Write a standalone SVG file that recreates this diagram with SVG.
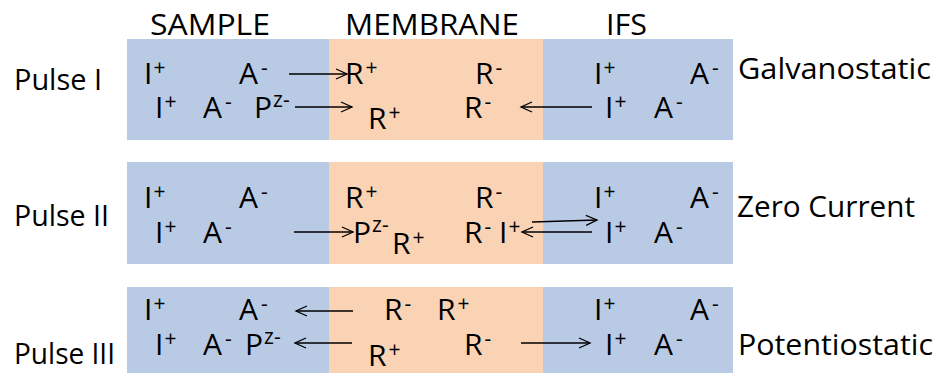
<svg xmlns="http://www.w3.org/2000/svg" width="938" height="375" viewBox="0 0 938 375">
<defs>
<style>
.b{fill:#B9CAE4}
.o{fill:#FAD3B5}
text{font-family:"Open Sans","Noto Sans",sans-serif;fill:#000}
.i{font-size:30px}
.s{font-size:21px}
.h{font-size:30px}
.l{font-size:29px}
.c path{fill:none;stroke:#000;stroke-width:1.3;marker-end:url(#ah)}
</style>
<marker id="ah" markerUnits="userSpaceOnUse" markerWidth="14" markerHeight="12" refX="12" refY="6" orient="auto">
<path d="M1,1 L12,6 L1,11" fill="none" stroke="#000" stroke-width="1.3"/>
</marker>
</defs>
<rect width="938" height="375" fill="#fff"/>

<g id="headers">
<text class="h" x="150" y="35" textLength="120" lengthAdjust="spacingAndGlyphs">SAMPLE</text>
<text class="h" x="345" y="35" textLength="174" lengthAdjust="spacingAndGlyphs">MEMBRANE</text>
<text class="h" x="606" y="35" textLength="41" lengthAdjust="spacingAndGlyphs">IFS</text>
</g>

<g id="pulse1">
<rect class="b" x="127" y="39" width="202" height="101"/>
<rect class="o" x="329" y="39" width="214" height="101"/>
<rect class="b" x="543" y="39" width="190" height="101"/>
<text class="l" x="14" y="90" textLength="88" lengthAdjust="spacingAndGlyphs">Pulse I</text>
<text class="l" x="738" y="79" textLength="193" lengthAdjust="spacingAndGlyphs">Galvanostatic</text>
<text class="i" x="144" y="84">I<tspan class="s" dx="1" dy="-9">+</tspan></text>
<text class="i" x="239" y="84">A<tspan class="s" dx="3" dy="-9">-</tspan></text>
<text class="i" x="345" y="84">R<tspan class="s" dx="2" dy="-9">+</tspan></text>
<text class="i" x="475" y="84">R<tspan class="s" dx="2" dy="-9">-</tspan></text>
<text class="i" x="594" y="84">I<tspan class="s" dx="1" dy="-9">+</tspan></text>
<text class="i" x="690" y="84">A<tspan class="s" dx="3" dy="-9">-</tspan></text>
<text class="i" x="155" y="118">I<tspan class="s" dx="1" dy="-9">+</tspan></text>
<text class="i" x="203" y="118">A<tspan class="s" dx="3" dy="-9">-</tspan></text>
<text class="i" x="254" y="118">P<tspan class="s" dx="1" dy="-11">z-</tspan></text>
<text class="i" x="368" y="129">R<tspan class="s" dx="2" dy="-9">+</tspan></text>
<text class="i" x="464" y="118">R<tspan class="s" dx="2" dy="-9">-</tspan></text>
<text class="i" x="605" y="118">I<tspan class="s" dx="1" dy="-9">+</tspan></text>
<text class="i" x="654" y="118">A<tspan class="s" dx="3" dy="-9">-</tspan></text>
</g>

<g id="pulse2">
<rect class="b" x="127" y="162" width="202" height="102"/>
<rect class="o" x="329" y="162" width="214" height="102"/>
<rect class="b" x="543" y="162" width="190" height="102"/>
<text class="l" x="14" y="226" textLength="95" lengthAdjust="spacingAndGlyphs">Pulse II</text>
<text class="l" x="737" y="217" textLength="178" lengthAdjust="spacingAndGlyphs">Zero Current</text>
<text class="i" x="144" y="208">I<tspan class="s" dx="1" dy="-9">+</tspan></text>
<text class="i" x="239" y="208">A<tspan class="s" dx="3" dy="-9">-</tspan></text>
<text class="i" x="345" y="208">R<tspan class="s" dx="2" dy="-9">+</tspan></text>
<text class="i" x="475" y="208">R<tspan class="s" dx="2" dy="-9">-</tspan></text>
<text class="i" x="594" y="208">I<tspan class="s" dx="1" dy="-9">+</tspan></text>
<text class="i" x="690" y="208">A<tspan class="s" dx="3" dy="-9">-</tspan></text>
<text class="i" x="155" y="243">I<tspan class="s" dx="1" dy="-9">+</tspan></text>
<text class="i" x="203" y="243">A<tspan class="s" dx="3" dy="-9">-</tspan></text>
<text class="i" x="353" y="243">P<tspan class="s" dx="1" dy="-11">z-</tspan></text>
<text class="i" x="392" y="254">R<tspan class="s" dx="2" dy="-9">+</tspan></text>
<text class="i" x="464" y="243">R<tspan class="s" dx="2" dy="-9">-</tspan></text>
<text class="i" x="499" y="243">I<tspan class="s" dx="1" dy="-9">+</tspan></text>
<text class="i" x="605" y="243">I<tspan class="s" dx="1" dy="-9">+</tspan></text>
<text class="i" x="654" y="243">A<tspan class="s" dx="3" dy="-9">-</tspan></text>
</g>

<g id="pulse3">
<rect class="b" x="127" y="287" width="202" height="86"/>
<rect class="o" x="329" y="287" width="214" height="86"/>
<rect class="b" x="543" y="287" width="190" height="86"/>
<text class="l" x="14" y="364" textLength="101" lengthAdjust="spacingAndGlyphs">Pulse III</text>
<text class="l" x="738" y="355" textLength="195" lengthAdjust="spacingAndGlyphs">Potentiostatic</text>
<text class="i" x="144" y="320">I<tspan class="s" dx="1" dy="-9">+</tspan></text>
<text class="i" x="239" y="320">A<tspan class="s" dx="3" dy="-9">-</tspan></text>
<text class="i" x="384" y="320">R<tspan class="s" dx="2" dy="-9">-</tspan></text>
<text class="i" x="437" y="320">R<tspan class="s" dx="2" dy="-9">+</tspan></text>
<text class="i" x="594" y="320">I<tspan class="s" dx="1" dy="-9">+</tspan></text>
<text class="i" x="690" y="320">A<tspan class="s" dx="3" dy="-9">-</tspan></text>
<text class="i" x="155" y="355">I<tspan class="s" dx="1" dy="-9">+</tspan></text>
<text class="i" x="203" y="355">A<tspan class="s" dx="3" dy="-9">-</tspan></text>
<text class="i" x="245" y="355">P<tspan class="s" dx="1" dy="-11">z-</tspan></text>
<text class="i" x="368" y="366">R<tspan class="s" dx="2" dy="-9">+</tspan></text>
<text class="i" x="464" y="355">R<tspan class="s" dx="2" dy="-9">-</tspan></text>
<text class="i" x="605" y="355">I<tspan class="s" dx="1" dy="-9">+</tspan></text>
<text class="i" x="654" y="355">A<tspan class="s" dx="3" dy="-9">-</tspan></text>
</g>

<g id="connectors" class="c">
<path d="M289,74 H347"/>
<path d="M295,107 H352"/>
<path d="M592,107 H521"/>
<path d="M294,232 H353"/>
<path d="M532,222 L597,220"/>
<path d="M592,232 H522"/>
<path d="M353,311 H296"/>
<path d="M352,343 H295"/>
<path d="M521,343 H590"/>
</g>
</svg>
